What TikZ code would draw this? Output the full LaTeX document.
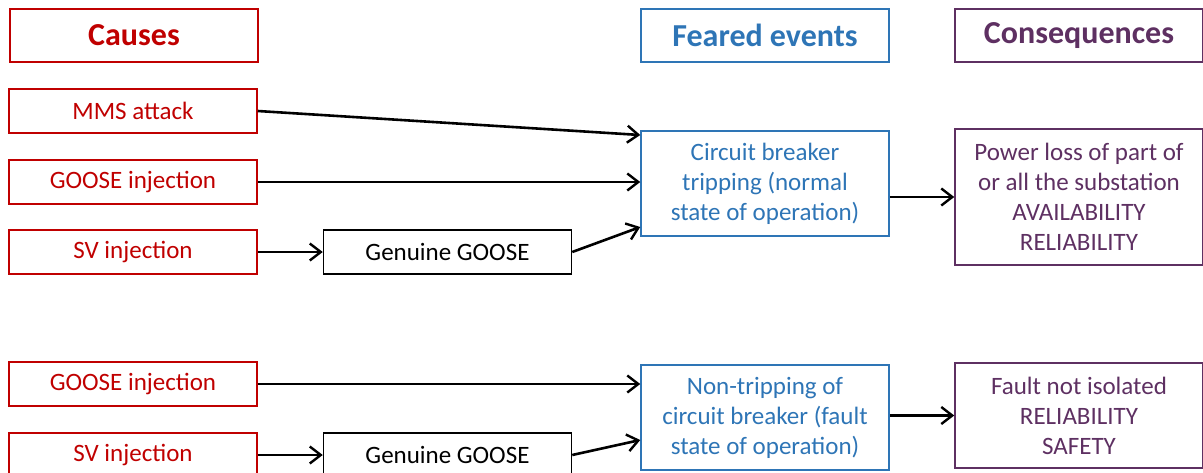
\documentclass[tikz,border=0pt]{standalone}
\usepackage{fontspec}
\usetikzlibrary{arrows.meta}
\setmainfont{Carlito}
\definecolor{causered}{RGB}{192,0,0}
\definecolor{fearblue}{RGB}{46,117,182}
\definecolor{conspurple}{RGB}{94,48,98}
\begin{document}
\begin{tikzpicture}[x=1pt,y=-1pt,
  head/.style={draw,line width=2.4pt,minimum width=248pt,minimum height=53pt,inner sep=0pt,font=\fontsize{32}{36}\selectfont\bfseries},
  cause/.style={draw=causered,text=causered,line width=1.5pt,minimum width=248pt,minimum height=44pt,inner sep=0pt,font=\fontsize{25}{30}\selectfont},
  relay/.style={cause,draw=black,text=black},
  event/.style={cause,draw=fearblue,text=fearblue,align=center,minimum height=105pt},
  effect/.style={cause,draw=conspurple,text=conspurple,align=center},
  link/.style={-{Straight Barb[length=11pt,width=17pt,line width=2.4pt]},line width=2.6pt}]
\useasboundingbox (0,0) rectangle (1203,472);
%\draw[help lines, color=gray!30] (0,0) grid[step=50pt] (1203,472);
% column titles
\node [head,draw=causered,text=causered] (causes_head) at (134,35.5) {Causes};
\node [head,draw=fearblue,text=fearblue] (feared_head) at (765,35.5) {Feared events};
\node [head,draw=conspurple,text=conspurple] (cons_head) at (1079,35.5) {Consequences};
% tripping case
\node [cause] (mms) at (133,111) {MMS attack};
\node [cause] (goose_top) at (133,182) {GOOSE injection};
\node [cause] (sv_top) at (133,252) {SV injection};
\node [relay] (gen_top) at (447.5,252) {Genuine GOOSE};
\node [event] (feared_trip) at (765,183.5) {Circuit breaker\\tripping (normal\\state of operation)};
\node [effect,minimum height=136pt] (cons_trip) at (1079,197) {Power loss of part of\\or all the substation\\AVAILABILITY\\RELIABILITY};
\draw [link] (mms.east) -- ([yshift=48.5pt]feared_trip.west);
\draw [link] (goose_top.east) -- (goose_top -| feared_trip.west);
\draw [link] (sv_top.east) -- (gen_top.west);
\draw [link] (gen_top.east) -- ([yshift=-43.5pt]feared_trip.west);
\draw [link] (cons_trip.west -| feared_trip.east) -- (cons_trip.west);
% non-tripping case
\node [cause] (goose_bot) at (133,384) {GOOSE injection};
\node [cause] (sv_bot) at (133,455) {SV injection};
\node [relay] (gen_bot) at (447.5,455) {Genuine GOOSE};
\node [event] (feared_nontrip) at (765,417.5) {Non-tripping of\\circuit breaker (fault\\state of operation)};
\node [effect,minimum height=105pt] (cons_fault) at (1079,415.5) {Fault not isolated\\RELIABILITY\\SAFETY};
\draw [link] (goose_bot.east) -- (goose_bot -| feared_nontrip.west);
\draw [link] (sv_bot.east) -- (gen_bot.west);
\draw [link] (gen_bot.east) -- ([yshift=-22.5pt]feared_nontrip.west);
\draw [link] (cons_fault.west -| feared_nontrip.east) -- (cons_fault.west);
\end{tikzpicture}
\end{document}
